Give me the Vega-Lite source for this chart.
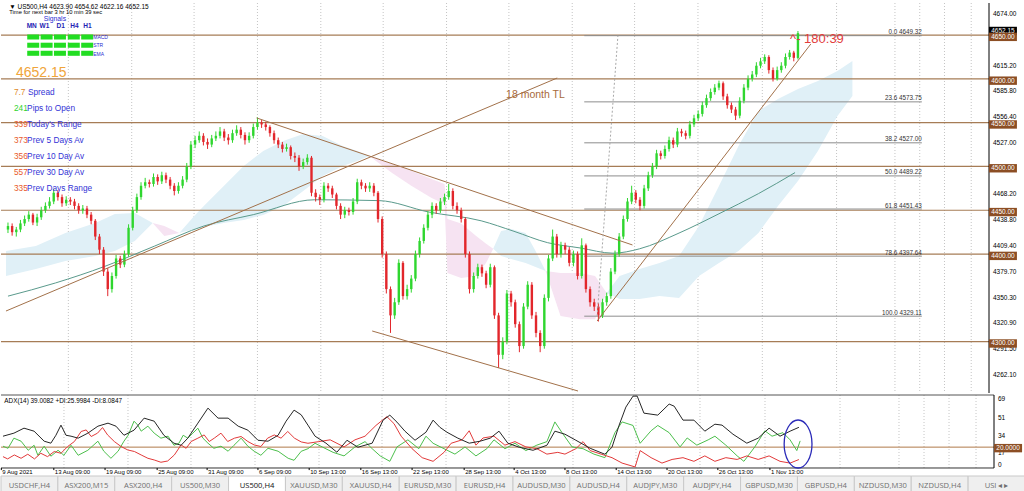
{
"$schema":"https://vega.github.io/schema/vega-lite/v6.json",
"padding":{"left":0,"top":2,"right":0,"bottom":0},
"background":"#ffffff",
"config":{"view":{"stroke":null}},
"resolve":{"scale":{"x":"independent","y":"independent"}},
"datasets":{
"c":[
{"i":0,"o":4428,"h":4436,"l":4424,"c":4432},{"i":1,"o":4432,"h":4435,"l":4421,"c":4425},{"i":2,"o":4425,"h":4431,"l":4420,"c":4428},{"i":3,"o":4428,"h":4439,"l":4425,"c":4435},{"i":4,"o":4435,"h":4444,"l":4432,"c":4440},{"i":5,"o":4440,"h":4449,"l":4437,"c":4445},{"i":6,"o":4445,"h":4447,"l":4433,"c":4436},{"i":7,"o":4436,"h":4446,"l":4432,"c":4442},{"i":8,"o":4442,"h":4454,"l":4439,"c":4450},{"i":9,"o":4450,"h":4459,"l":4447,"c":4455},
{"i":10,"o":4455,"h":4465,"l":4452,"c":4460},{"i":11,"o":4460,"h":4474,"l":4457,"c":4470},{"i":12,"o":4470,"h":4473,"l":4461,"c":4465},{"i":13,"o":4465,"h":4468,"l":4454,"c":4458},{"i":14,"o":4458,"h":4466,"l":4455,"c":4462},{"i":15,"o":4462,"h":4465,"l":4456,"c":4460},{"i":16,"o":4460,"h":4463,"l":4451,"c":4455},{"i":17,"o":4455,"h":4458,"l":4446,"c":4450},{"i":18,"o":4450,"h":4456,"l":4446,"c":4452},{"i":19,"o":4452,"h":4455,"l":4441,"c":4445},
{"i":20,"o":4445,"h":4448,"l":4434,"c":4438},{"i":21,"o":4438,"h":4440,"l":4416,"c":4420},{"i":22,"o":4420,"h":4423,"l":4400,"c":4405},{"i":23,"o":4405,"h":4408,"l":4375,"c":4380},{"i":24,"o":4380,"h":4384,"l":4352,"c":4360},{"i":25,"o":4360,"h":4379,"l":4356,"c":4375},{"i":26,"o":4375,"h":4399,"l":4372,"c":4395},{"i":27,"o":4395,"h":4398,"l":4384,"c":4388},{"i":28,"o":4388,"h":4404,"l":4385,"c":4400},{"i":29,"o":4400,"h":4434,"l":4397,"c":4430},
{"i":30,"o":4430,"h":4454,"l":4427,"c":4450},{"i":31,"o":4450,"h":4469,"l":4447,"c":4465},{"i":32,"o":4465,"h":4482,"l":4462,"c":4478},{"i":33,"o":4478,"h":4487,"l":4475,"c":4482},{"i":34,"o":4482,"h":4485,"l":4476,"c":4480},{"i":35,"o":4480,"h":4492,"l":4477,"c":4488},{"i":36,"o":4488,"h":4491,"l":4479,"c":4483},{"i":37,"o":4483,"h":4494,"l":4480,"c":4490},{"i":38,"o":4490,"h":4493,"l":4481,"c":4485},{"i":39,"o":4485,"h":4488,"l":4474,"c":4478},
{"i":40,"o":4478,"h":4481,"l":4467,"c":4472},{"i":41,"o":4472,"h":4482,"l":4469,"c":4478},{"i":42,"o":4478,"h":4489,"l":4475,"c":4485},{"i":43,"o":4485,"h":4504,"l":4482,"c":4500},{"i":44,"o":4500,"h":4529,"l":4497,"c":4525},{"i":45,"o":4525,"h":4535,"l":4521,"c":4530},{"i":46,"o":4530,"h":4540,"l":4527,"c":4535},{"i":47,"o":4535,"h":4538,"l":4524,"c":4528},{"i":48,"o":4528,"h":4532,"l":4520,"c":4525},{"i":49,"o":4525,"h":4536,"l":4522,"c":4532},
{"i":50,"o":4532,"h":4540,"l":4529,"c":4535},{"i":51,"o":4535,"h":4545,"l":4532,"c":4540},{"i":52,"o":4540,"h":4543,"l":4529,"c":4533},{"i":53,"o":4533,"h":4537,"l":4525,"c":4530},{"i":54,"o":4530,"h":4542,"l":4527,"c":4538},{"i":55,"o":4538,"h":4547,"l":4535,"c":4542},{"i":56,"o":4542,"h":4545,"l":4532,"c":4536},{"i":57,"o":4536,"h":4539,"l":4525,"c":4530},{"i":58,"o":4530,"h":4539,"l":4527,"c":4535},{"i":59,"o":4535,"h":4549,"l":4532,"c":4545},
{"i":60,"o":4545,"h":4556,"l":4542,"c":4550},{"i":61,"o":4550,"h":4553,"l":4544,"c":4548},{"i":62,"o":4548,"h":4551,"l":4541,"c":4545},{"i":63,"o":4545,"h":4547,"l":4534,"c":4538},{"i":64,"o":4538,"h":4541,"l":4526,"c":4530},{"i":65,"o":4530,"h":4533,"l":4521,"c":4525},{"i":66,"o":4525,"h":4528,"l":4516,"c":4520},{"i":67,"o":4520,"h":4526,"l":4517,"c":4522},{"i":68,"o":4522,"h":4524,"l":4508,"c":4512},{"i":69,"o":4512,"h":4516,"l":4505,"c":4510},
{"i":70,"o":4510,"h":4513,"l":4495,"c":4500},{"i":71,"o":4500,"h":4509,"l":4497,"c":4505},{"i":72,"o":4505,"h":4514,"l":4502,"c":4510},{"i":73,"o":4510,"h":4512,"l":4466,"c":4470},{"i":74,"o":4470,"h":4474,"l":4460,"c":4465},{"i":75,"o":4465,"h":4468,"l":4456,"c":4462},{"i":76,"o":4462,"h":4482,"l":4459,"c":4478},{"i":77,"o":4478,"h":4481,"l":4471,"c":4475},{"i":78,"o":4475,"h":4478,"l":4464,"c":4468},{"i":79,"o":4468,"h":4470,"l":4451,"c":4455},
{"i":80,"o":4455,"h":4458,"l":4440,"c":4445},{"i":81,"o":4445,"h":4454,"l":4441,"c":4450},{"i":82,"o":4450,"h":4453,"l":4444,"c":4448},{"i":83,"o":4448,"h":4464,"l":4445,"c":4460},{"i":84,"o":4460,"h":4486,"l":4457,"c":4482},{"i":85,"o":4482,"h":4485,"l":4474,"c":4478},{"i":86,"o":4478,"h":4481,"l":4471,"c":4475},{"i":87,"o":4475,"h":4482,"l":4471,"c":4478},{"i":88,"o":4478,"h":4481,"l":4466,"c":4470},{"i":89,"o":4470,"h":4472,"l":4436,"c":4440},
{"i":90,"o":4440,"h":4443,"l":4396,"c":4400},{"i":91,"o":4400,"h":4403,"l":4355,"c":4360},{"i":92,"o":4360,"h":4363,"l":4310,"c":4330},{"i":93,"o":4330,"h":4350,"l":4326,"c":4345},{"i":94,"o":4345,"h":4394,"l":4342,"c":4390},{"i":95,"o":4390,"h":4392,"l":4348,"c":4352},{"i":96,"o":4352,"h":4365,"l":4348,"c":4360},{"i":97,"o":4360,"h":4376,"l":4356,"c":4372},{"i":98,"o":4372,"h":4404,"l":4369,"c":4400},{"i":99,"o":4400,"h":4419,"l":4396,"c":4415},
{"i":100,"o":4415,"h":4434,"l":4412,"c":4430},{"i":101,"o":4430,"h":4449,"l":4427,"c":4445},{"i":102,"o":4445,"h":4459,"l":4441,"c":4455},{"i":103,"o":4455,"h":4458,"l":4446,"c":4450},{"i":104,"o":4450,"h":4464,"l":4447,"c":4460},{"i":105,"o":4460,"h":4469,"l":4456,"c":4465},{"i":106,"o":4465,"h":4480,"l":4462,"c":4472},{"i":107,"o":4472,"h":4475,"l":4451,"c":4455},{"i":108,"o":4455,"h":4459,"l":4446,"c":4450},{"i":109,"o":4450,"h":4453,"l":4436,"c":4440},
{"i":110,"o":4440,"h":4442,"l":4396,"c":4400},{"i":111,"o":4400,"h":4403,"l":4355,"c":4360},{"i":112,"o":4360,"h":4379,"l":4356,"c":4375},{"i":113,"o":4375,"h":4389,"l":4372,"c":4385},{"i":114,"o":4385,"h":4388,"l":4374,"c":4378},{"i":115,"o":4378,"h":4381,"l":4361,"c":4365},{"i":116,"o":4365,"h":4389,"l":4362,"c":4385},{"i":117,"o":4385,"h":4387,"l":4326,"c":4330},{"i":118,"o":4330,"h":4333,"l":4270,"c":4285},{"i":119,"o":4285,"h":4305,"l":4280,"c":4300},
{"i":120,"o":4300,"h":4359,"l":4297,"c":4355},{"i":121,"o":4355,"h":4358,"l":4340,"c":4345},{"i":122,"o":4345,"h":4348,"l":4316,"c":4320},{"i":123,"o":4320,"h":4323,"l":4288,"c":4295},{"i":124,"o":4295,"h":4344,"l":4292,"c":4340},{"i":125,"o":4340,"h":4369,"l":4337,"c":4365},{"i":126,"o":4365,"h":4368,"l":4326,"c":4330},{"i":127,"o":4330,"h":4334,"l":4305,"c":4310},{"i":128,"o":4310,"h":4313,"l":4288,"c":4295},{"i":129,"o":4295,"h":4354,"l":4292,"c":4350},
{"i":130,"o":4350,"h":4399,"l":4346,"c":4395},{"i":131,"o":4395,"h":4428,"l":4392,"c":4420},{"i":132,"o":4420,"h":4423,"l":4396,"c":4400},{"i":133,"o":4400,"h":4414,"l":4396,"c":4410},{"i":134,"o":4410,"h":4413,"l":4400,"c":4405},{"i":135,"o":4405,"h":4408,"l":4386,"c":4390},{"i":136,"o":4390,"h":4404,"l":4386,"c":4400},{"i":137,"o":4400,"h":4403,"l":4371,"c":4375},{"i":138,"o":4375,"h":4418,"l":4372,"c":4410},{"i":139,"o":4410,"h":4412,"l":4356,"c":4360},
{"i":140,"o":4360,"h":4363,"l":4340,"c":4345},{"i":141,"o":4345,"h":4349,"l":4335,"c":4340},{"i":142,"o":4340,"h":4344,"l":4323,"c":4330},{"i":143,"o":4330,"h":4349,"l":4327,"c":4345},{"i":144,"o":4345,"h":4356,"l":4341,"c":4352},{"i":145,"o":4352,"h":4384,"l":4349,"c":4380},{"i":146,"o":4380,"h":4404,"l":4377,"c":4400},{"i":147,"o":4400,"h":4424,"l":4397,"c":4420},{"i":148,"o":4420,"h":4444,"l":4417,"c":4440},{"i":149,"o":4440,"h":4464,"l":4437,"c":4460},
{"i":150,"o":4460,"h":4478,"l":4457,"c":4470},{"i":151,"o":4470,"h":4473,"l":4458,"c":4462},{"i":152,"o":4462,"h":4465,"l":4450,"c":4455},{"i":153,"o":4455,"h":4479,"l":4452,"c":4475},{"i":154,"o":4475,"h":4494,"l":4472,"c":4490},{"i":155,"o":4490,"h":4504,"l":4487,"c":4500},{"i":156,"o":4500,"h":4519,"l":4497,"c":4515},{"i":157,"o":4515,"h":4518,"l":4508,"c":4512},{"i":158,"o":4512,"h":4524,"l":4509,"c":4520},{"i":159,"o":4520,"h":4534,"l":4517,"c":4530},
{"i":160,"o":4530,"h":4533,"l":4521,"c":4525},{"i":161,"o":4525,"h":4544,"l":4522,"c":4540},{"i":162,"o":4540,"h":4543,"l":4534,"c":4538},{"i":163,"o":4538,"h":4541,"l":4531,"c":4535},{"i":164,"o":4535,"h":4552,"l":4532,"c":4548},{"i":165,"o":4548,"h":4559,"l":4545,"c":4555},{"i":166,"o":4555,"h":4564,"l":4552,"c":4560},{"i":167,"o":4560,"h":4574,"l":4557,"c":4570},{"i":168,"o":4570,"h":4582,"l":4567,"c":4578},{"i":169,"o":4578,"h":4589,"l":4575,"c":4585},
{"i":170,"o":4585,"h":4594,"l":4582,"c":4590},{"i":171,"o":4590,"h":4598,"l":4587,"c":4595},{"i":172,"o":4595,"h":4597,"l":4576,"c":4580},{"i":173,"o":4580,"h":4583,"l":4566,"c":4570},{"i":174,"o":4570,"h":4573,"l":4561,"c":4565},{"i":175,"o":4565,"h":4568,"l":4553,"c":4558},{"i":176,"o":4558,"h":4579,"l":4555,"c":4575},{"i":177,"o":4575,"h":4594,"l":4572,"c":4590},{"i":178,"o":4590,"h":4604,"l":4587,"c":4600},{"i":179,"o":4600,"h":4609,"l":4597,"c":4605},
{"i":180,"o":4605,"h":4619,"l":4602,"c":4615},{"i":181,"o":4615,"h":4624,"l":4612,"c":4620},{"i":182,"o":4620,"h":4628,"l":4617,"c":4625},{"i":183,"o":4625,"h":4627,"l":4606,"c":4610},{"i":184,"o":4610,"h":4613,"l":4597,"c":4600},{"i":185,"o":4600,"h":4614,"l":4598,"c":4610},{"i":186,"o":4610,"h":4619,"l":4607,"c":4615},{"i":187,"o":4615,"h":4629,"l":4612,"c":4625},{"i":188,"o":4625,"h":4633,"l":4622,"c":4630},{"i":189,"o":4630,"h":4632,"l":4620,"c":4624},
{"i":190,"o":4623.9,"h":4654.62,"l":4622.16,"c":4652.15}
],
"ma":[{"i":0,"p":4352},{"i":11.4,"p":4367},{"i":23.3,"p":4386},{"i":35.2,"p":4409},{"i":47.1,"p":4432},{"i":59,"p":4445},{"i":73.8,"p":4462},{"i":89.3,"p":4461},{"i":101.2,"p":4448},{"i":113.8,"p":4438},{"i":121.7,"p":4426},{"i":129.8,"p":4413},{"i":137.6,"p":4407},{"i":145.5,"p":4401},{"i":151.9,"p":4406},{"i":161.4,"p":4424},{"i":171,"p":4446},{"i":180.5,"p":4469},{"i":189.3,"p":4493}],
"cloud":[
{"s":1,"k":"b","i":-0.48,"a":4403.5,"b":4375.0},{"s":1,"k":"b","i":6.7,"a":4409.2,"b":4383.0},{"s":1,"k":"b","i":13.8,"a":4424.1,"b":4392.1},{"s":1,"k":"b","i":21,"a":4435.5,"b":4397.8},{"s":1,"k":"b","i":25.7,"a":4445.8,"b":4403.5},{"s":1,"k":"b","i":30.5,"a":4447.0,"b":4415.0},{"s":1,"k":"b","i":34.8,"a":4435.5,"b":4435.5},
{"s":2,"k":"p","i":34.8,"a":4435.5,"b":4435.5},{"s":2,"k":"p","i":37.6,"a":4432.1,"b":4420.7},{"s":2,"k":"p","i":41.2,"a":4424.1,"b":4424.1},
{"s":3,"k":"b","i":41.2,"a":4424.1,"b":4424.1},{"s":3,"k":"b","i":44.8,"a":4443.5,"b":4428.7},{"s":3,"k":"b","i":47.1,"a":4454.9,"b":4431.0},{"s":3,"k":"b","i":51.9,"a":4477.7,"b":4435.5},{"s":3,"k":"b","i":56.7,"a":4500.6,"b":4439.0},{"s":3,"k":"b","i":61.4,"a":4517.7,"b":4444.7},{"s":3,"k":"b","i":66.2,"a":4529.1,"b":4454.9},{"s":3,"k":"b","i":71,"a":4537.1,"b":4472.0},{"s":3,"k":"b","i":75.7,"a":4534.8,"b":4489.2},{"s":3,"k":"b","i":80.5,"a":4523.4,"b":4500.6},{"s":3,"k":"b","i":84,"a":4517.7,"b":4506.3},{"s":3,"k":"b","i":86.9,"a":4512.0,"b":4512.0},
{"s":4,"k":"p","i":86.9,"a":4512.0,"b":4512.0},{"s":4,"k":"p","i":92.4,"a":4502.9,"b":4492.6},{"s":4,"k":"p","i":97.1,"a":4494.9,"b":4477.7},{"s":4,"k":"p","i":101.9,"a":4485.7,"b":4463.9},{"s":4,"k":"p","i":105,"a":4480.0,"b":4457.1},{"s":4,"k":"p","i":105.7,"a":4440,"b":4378.4},{"s":4,"k":"p","i":109,"a":4435,"b":4372.7},{"s":4,"k":"p","i":112.6,"a":4420.7,"b":4375.0},{"s":4,"k":"p","i":115,"a":4411.7,"b":4390.0},{"s":4,"k":"p","i":116.7,"a":4406.0,"b":4406.0},
{"s":5,"k":"b","i":116.7,"a":4406.0,"b":4406.0},{"s":5,"k":"b","i":118.6,"a":4426.4,"b":4397.8},{"s":5,"k":"b","i":121,"a":4428.7,"b":4394.4},{"s":5,"k":"b","i":124.5,"a":4424.1,"b":4389.9},{"s":5,"k":"b","i":126.9,"a":4403.5,"b":4385.3},{"s":5,"k":"b","i":129.3,"a":4380.7,"b":4380.7},
{"s":6,"k":"p","i":129.3,"a":4380.7,"b":4380.7},{"s":6,"k":"p","i":132.9,"a":4378.4,"b":4329.3},{"s":6,"k":"p","i":137.6,"a":4378.4,"b":4325.7},{"s":6,"k":"p","i":141.2,"a":4375.0,"b":4325.7},{"s":6,"k":"p","i":144,"a":4355.6,"b":4355.6},
{"s":7,"k":"b","i":144,"a":4355.6,"b":4355.6},{"s":7,"k":"b","i":147.1,"a":4375.0,"b":4348.7},{"s":7,"k":"b","i":151.9,"a":4383.0,"b":4348.7},{"s":7,"k":"b","i":156.7,"a":4389.9,"b":4352.2},{"s":7,"k":"b","i":161.4,"a":4397.8,"b":4349.9},{"s":7,"k":"b","i":166.2,"a":4432.1,"b":4375.0},{"s":7,"k":"b","i":171,"a":4477.7,"b":4389.9},{"s":7,"k":"b","i":175.7,"a":4523.4,"b":4403.5},{"s":7,"k":"b","i":180.5,"a":4563.4,"b":4424.1},{"s":7,"k":"b","i":185.2,"a":4577.1,"b":4454.9},{"s":7,"k":"b","i":190,"a":4588.5,"b":4483.4},{"s":7,"k":"b","i":194.8,"a":4597.6,"b":4517.7},{"s":7,"k":"b","i":199.5,"a":4609.0,"b":4557.7},{"s":7,"k":"b","i":203.1,"a":4620.4,"b":4580.5}
],
"sr":[{"p":4650},{"p":4600},{"p":4550},{"p":4500},{"p":4450},{"p":4400},{"p":4300}],
"cur":[{"p":4652.15}],
"yt":[{"p":4674},{"p":4615.2},{"p":4585.8},{"p":4556.4},{"p":4527},{"p":4468.2},{"p":4438.8},{"p":4409.4},{"p":4379.7},{"p":4350.3},{"p":4320.9},{"p":4291.5},{"p":4262.1}],
"fib":[{"p":4649.32,"t":"0.0  4649.32"},{"p":4573.75,"t":"23.6  4573.75"},{"p":4527.00,"t":"38.2  4527.00"},{"p":4489.22,"t":"50.0  4489.22"},{"p":4451.43,"t":"61.8  4451.43"},{"p":4397.64,"t":"78.6  4397.64"},{"p":4329.11,"t":"100.0  4329.11"}],
"tl":[{"x1":-0.48,"y1":4335.0,"x2":132.1,"y2":4601.0},{"x1":59.8,"y1":4555.4,"x2":150.2,"y2":4410.4},{"x1":87.6,"y1":4312.2,"x2":137.1,"y2":4243.7},{"x1":141.7,"y1":4323.6,"x2":193.1,"y2":4639.8}],
"fd":[{"x1":141.7,"y1":4329.11,"x2":146.7,"y2":4649.32}],
"grid":[{"i":14.52},{"i":29.76},{"i":44.76},{"i":60},{"i":75.24},{"i":90.24},{"i":105.48},{"i":120.48},{"i":135.71},{"i":150.71},{"i":165.95},{"i":181.43},{"i":199.29},{"i":213.33},{"i":219.29},{"i":225.24},{"i":231.67}],
"notes":[
{"g":"hdr","t":"▼ US500,H4  4623.90 4654.62 4622.16 4652.15","i":0.3,"p":4682.6},
{"g":"tm","t":"Time for next bar  3 hr 10 min 39 sec","i":0.3,"p":4675.8},
{"g":"sig","t":"Signals","i":8.6,"p":4668.3},
{"g":"tf","t":"MN","i":4.5,"p":4660.3},{"g":"tf","t":"W1","i":7.6,"p":4660.3},{"g":"tf","t":"D1","i":11.7,"p":4660.3},{"g":"tf","t":"H4","i":15.0,"p":4660.3},{"g":"tf","t":"H1","i":18.1,"p":4660.3},
{"g":"ind","t":"MACD","i":20.5,"p":4647.8},{"g":"ind","t":"STR","i":20.5,"p":4638.7},{"g":"ind","t":"EMA","i":20.5,"p":4628.4},
{"g":"big","t":"4652.15","i":1.9,"p":4606.7},
{"g":"no","t":"7.7","i":1.43,"p":4584.2},{"g":"ng","t":"241","i":1.43,"p":4566.0},{"g":"nr","t":"339","i":1.43,"p":4547.4},{"g":"nr","t":"373","i":1.43,"p":4529.1},{"g":"nr","t":"356","i":1.43,"p":4511.2},{"g":"nr","t":"557","i":1.43,"p":4493.0},{"g":"nr","t":"335","i":1.43,"p":4474.7},
{"g":"lab","t":"Spread","i":4.8,"p":4584.2},{"g":"lab","t":"Pips to Open","i":4.6,"p":4566.0},{"g":"lab","t":"Today's Range","i":4.6,"p":4547.4},{"g":"lab","t":"Prev 5 Days Av","i":4.6,"p":4529.1},{"g":"lab","t":"Prev 10 Day Av","i":4.6,"p":4511.2},{"g":"lab","t":"Prev 30 Day Av","i":4.6,"p":4493.0},{"g":"lab","t":"Prev Days Range","i":4.6,"p":4474.7},
{"g":"tl","t":"18 month TL","i":119.8,"p":4581.6},
{"g":"cd","t":"^- 180:39","i":188.1,"p":4645.5}
],
"sq":[{"i":6.07,"p":4647.8},{"i":9.29,"p":4647.8},{"i":12.5,"p":4647.8},{"i":15.83,"p":4647.8},{"i":19.05,"p":4647.8},{"i":6.07,"p":4638.4},{"i":9.29,"p":4638.4},{"i":12.5,"p":4638.4},{"i":15.83,"p":4638.4},{"i":19.05,"p":4638.4},{"i":6.07,"p":4629.2},{"i":9.29,"p":4629.2},{"i":12.5,"p":4629.2},{"i":15.83,"p":4629.2},{"i":19.05,"p":4629.2}],
"lvl":[{"v":20}],
"atop":[{"v":70}],
"abot":[{"v":0}],
"at":[{"v":69},{"v":51},{"v":34},{"v":17}],
"dt":[{"i":-0.4,"t":"9 Aug 2021"},{"i":12.1,"t":"13 Aug 09:00"},{"i":24.3,"t":"19 Aug 09:00"},{"i":36.7,"t":"25 Aug 09:00"},{"i":48.6,"t":"31 Aug 09:00"},{"i":60.7,"t":"6 Sep 09:00"},{"i":72.9,"t":"10 Sep 13:00"},{"i":85.2,"t":"16 Sep 13:00"},{"i":97.4,"t":"22 Sep 13:00"},{"i":109.8,"t":"28 Sep 13:00"},{"i":121.7,"t":"4 Oct 13:00"},{"i":133.8,"t":"8 Oct 13:00"},{"i":146,"t":"14 Oct 13:00"},{"i":158.1,"t":"20 Oct 13:00"},{"i":170.2,"t":"26 Oct 13:00"},{"i":182.6,"t":"1 Nov 13:00"}],
"anote":[{"t":"ADX(14) 39.0082 +DI:25.9984 -DI:8.0847","i":0.3,"v":64.3}],
"ell":[{"i":189.3,"v":23.0}],
"adx":[
{"s":"a","i":0,"v":30.5},{"s":"a","i":2.6,"v":33.4},{"s":"a","i":5,"v":38.2},{"s":"a","i":7.4,"v":35.3},{"s":"a","i":9.8,"v":25.7},{"s":"a","i":11.4,"v":23.8},{"s":"a","i":12.6,"v":31.4},{"s":"a","i":13.8,"v":41.1},{"s":"a","i":15,"v":31.4},{"s":"a","i":16.2,"v":30.5},{"s":"a","i":17.9,"v":28.6},{"s":"a","i":20.2,"v":33.4},{"s":"a","i":22.6,"v":40.1},{"s":"a","i":25,"v":43},{"s":"a","i":26.9,"v":40.1},{"s":"a","i":28.8,"v":31.4},{"s":"a","i":31.2,"v":36.3},{"s":"a","i":33.6,"v":47.8},{"s":"a","i":36,"v":44.9},{"s":"a","i":38.3,"v":31.4},{"s":"a","i":40.7,"v":23.8},{"s":"a","i":42.4,"v":21.8},{"s":"a","i":44,"v":28.6},{"s":"a","i":46.4,"v":43},{"s":"a","i":48.8,"v":57.4},{"s":"a","i":51.2,"v":47.8},{"s":"a","i":53.6,"v":47.8},{"s":"a","i":56,"v":40.1},{"s":"a","i":58.3,"v":36.3},{"s":"a","i":60.7,"v":26.6},{"s":"a","i":63.1,"v":25.7},{"s":"a","i":65.5,"v":31.4},{"s":"a","i":67.4,"v":44.9},{"s":"a","i":69.3,"v":55.5},{"s":"a","i":71,"v":51},{"s":"a","i":72.6,"v":41.1},{"s":"a","i":74.3,"v":30.5},{"s":"a","i":76.9,"v":23.8},{"s":"a","i":79.5,"v":15.1},{"s":"a","i":81.9,"v":26.6},{"s":"a","i":84.5,"v":19.9},{"s":"a","i":87.9,"v":23.8},{"s":"a","i":90.5,"v":45.9},{"s":"a","i":92.1,"v":50.7},{"s":"a","i":93.8,"v":44},{"s":"a","i":95.7,"v":35.3},{"s":"a","i":98.1,"v":26.6},{"s":"a","i":100.7,"v":34.3},{"s":"a","i":102.4,"v":45.9},{"s":"a","i":104,"v":39.1},{"s":"a","i":105.7,"v":34.3},{"s":"a","i":108.3,"v":28.6},{"s":"a","i":111,"v":23.8},{"s":"a","i":113.6,"v":25.7},{"s":"a","i":116,"v":28.6},{"s":"a","i":118.1,"v":35.3},{"s":"a","i":120.2,"v":23.8},{"s":"a","i":122.9,"v":19.9},{"s":"a","i":126.2,"v":17},{"s":"a","i":129.5,"v":21.8},{"s":"a","i":131.4,"v":35.3},{"s":"a","i":133.8,"v":32.4},{"s":"a","i":136.4,"v":26.6},{"s":"a","i":139.8,"v":18.9},{"s":"a","i":143.3,"v":13.2},{"s":"a","i":145,"v":19.9},{"s":"a","i":146.7,"v":41.1},{"s":"a","i":148.3,"v":58.4},{"s":"a","i":150,"v":68.9},{"s":"a","i":151,"v":68.9},{"s":"a","i":152.6,"v":52.6},{"s":"a","i":155.9,"v":50.7},{"s":"a","i":158.6,"v":61.3},{"s":"a","i":159.8,"v":59.3},{"s":"a","i":161.9,"v":45.9},{"s":"a","i":164.5,"v":45.9},{"s":"a","i":167.1,"v":35.3},{"s":"a","i":169.5,"v":42},{"s":"a","i":171.2,"v":41.1},{"s":"a","i":173.8,"v":32.4},{"s":"a","i":177.1,"v":23.8},{"s":"a","i":179.8,"v":28.6},{"s":"a","i":182.4,"v":38.2},{"s":"a","i":185,"v":30.5},{"s":"a","i":187.4,"v":35.3},{"s":"a","i":189.5,"v":39},
{"s":"p","i":0,"v":20.9},{"s":"p","i":1.2,"v":18.9},{"s":"p","i":2.6,"v":28.6},{"s":"p","i":4.3,"v":25.7},{"s":"p","i":6,"v":17},{"s":"p","i":7.4,"v":21.8},{"s":"p","i":8.3,"v":12.2},{"s":"p","i":9.8,"v":20.9},{"s":"p","i":11.4,"v":11.3},{"s":"p","i":13.1,"v":17},{"s":"p","i":14.5,"v":12.2},{"s":"p","i":16.2,"v":21.8},{"s":"p","i":17.9,"v":12.2},{"s":"p","i":20.2,"v":17},{"s":"p","i":22.6,"v":25.7},{"s":"p","i":24,"v":16.1},{"s":"p","i":25.7,"v":9.3},{"s":"p","i":27.4,"v":16.1},{"s":"p","i":28.8,"v":25.7},{"s":"p","i":29.8,"v":31.4},{"s":"p","i":31.2,"v":44.9},{"s":"p","i":32.1,"v":41.1},{"s":"p","i":32.9,"v":35.3},{"s":"p","i":34.5,"v":40.1},{"s":"p","i":36,"v":33.4},{"s":"p","i":37.6,"v":28.6},{"s":"p","i":39.3,"v":30.5},{"s":"p","i":40.7,"v":21.8},{"s":"p","i":41.9,"v":23.8},{"s":"p","i":42.9,"v":31.4},{"s":"p","i":44,"v":28.6},{"s":"p","i":45.2,"v":33.4},{"s":"p","i":46.4,"v":38.2},{"s":"p","i":47.6,"v":28.6},{"s":"p","i":48.8,"v":23.8},{"s":"p","i":50.2,"v":18.9},{"s":"p","i":51.9,"v":20.9},{"s":"p","i":53.6,"v":16.1},{"s":"p","i":55,"v":21.8},{"s":"p","i":56.7,"v":28.6},{"s":"p","i":58.3,"v":20.9},{"s":"p","i":59.8,"v":16.1},{"s":"p","i":61.4,"v":12.2},{"s":"p","i":63.1,"v":18.9},{"s":"p","i":65.5,"v":16.1},{"s":"p","i":67.9,"v":9.3},{"s":"p","i":69.3,"v":7.4},{"s":"p","i":71,"v":16},{"s":"p","i":72.6,"v":18.5},{"s":"p","i":74.3,"v":23.7},{"s":"p","i":76,"v":20.2},{"s":"p","i":78.6,"v":15},{"s":"p","i":81.2,"v":11.6},{"s":"p","i":83.8,"v":20.2},{"s":"p","i":86.2,"v":25.3},{"s":"p","i":87.9,"v":18.5},{"s":"p","i":89.8,"v":11.6},{"s":"p","i":92.1,"v":6.4},{"s":"p","i":93.8,"v":20.2},{"s":"p","i":96.4,"v":27},{"s":"p","i":99,"v":18.5},{"s":"p","i":100.7,"v":30.5},{"s":"p","i":102.4,"v":23.7},{"s":"p","i":105,"v":18.5},{"s":"p","i":107.6,"v":13.3},{"s":"p","i":110,"v":20.2},{"s":"p","i":112.6,"v":11.6},{"s":"p","i":115.2,"v":18.5},{"s":"p","i":116.9,"v":27},{"s":"p","i":119.5,"v":18.5},{"s":"p","i":121.9,"v":23.7},{"s":"p","i":124.5,"v":16.7},{"s":"p","i":127.1,"v":21.9},{"s":"p","i":129.5,"v":25.3},{"s":"p","i":131.4,"v":44.2},{"s":"p","i":133.1,"v":33.9},{"s":"p","i":135.5,"v":20.2},{"s":"p","i":138.1,"v":18.5},{"s":"p","i":140.7,"v":13.3},{"s":"p","i":143.3,"v":9.9},{"s":"p","i":145.7,"v":33.9},{"s":"p","i":147.4,"v":44.2},{"s":"p","i":150,"v":40.8},{"s":"p","i":151.7,"v":23.7},{"s":"p","i":154.3,"v":35.7},{"s":"p","i":155.9,"v":40.8},{"s":"p","i":158.6,"v":33.9},{"s":"p","i":161.2,"v":20.2},{"s":"p","i":162.9,"v":28.8},{"s":"p","i":165.2,"v":21.9},{"s":"p","i":167.9,"v":27},{"s":"p","i":169.5,"v":30.5},{"s":"p","i":172.1,"v":21.9},{"s":"p","i":174.8,"v":11.6},{"s":"p","i":176.4,"v":6.4},{"s":"p","i":179,"v":20.2},{"s":"p","i":181.4,"v":35.7},{"s":"p","i":183.1,"v":30.5},{"s":"p","i":185.7,"v":33.9},{"s":"p","i":187.4,"v":27},{"s":"p","i":189,"v":16.7},{"s":"p","i":189.8,"v":26},
{"s":"m","i":0,"v":10.9},{"s":"m","i":1.1,"v":8.7},{"s":"m","i":2.7,"v":12.5},{"s":"m","i":4.3,"v":9.3},{"s":"m","i":5.9,"v":13.2},{"s":"m","i":7.5,"v":8.7},{"s":"m","i":9,"v":14.1},{"s":"m","i":10.6,"v":10.9},{"s":"m","i":12.2,"v":15.8},{"s":"m","i":13.8,"v":14.1},{"s":"m","i":15.4,"v":20.6},{"s":"m","i":17,"v":25.4},{"s":"m","i":18.6,"v":35},{"s":"m","i":19.8,"v":36.5},{"s":"m","i":21,"v":30.2},{"s":"m","i":22.5,"v":33.4},{"s":"m","i":23.7,"v":38.8},{"s":"m","i":24.9,"v":31.7},{"s":"m","i":26.5,"v":25.4},{"s":"m","i":28.1,"v":20.6},{"s":"m","i":29.7,"v":17.3},{"s":"m","i":31.3,"v":15.8},{"s":"m","i":32.9,"v":12.5},{"s":"m","i":34.5,"v":9.3},{"s":"m","i":36,"v":7.7},{"s":"m","i":37.6,"v":5.5},{"s":"m","i":39.2,"v":6.7},{"s":"m","i":40.8,"v":12.5},{"s":"m","i":42.4,"v":22.1},{"s":"m","i":43.6,"v":18.9},{"s":"m","i":44.8,"v":25.4},{"s":"m","i":46.4,"v":28.6},{"s":"m","i":47.9,"v":31.7},{"s":"m","i":49.1,"v":25.4},{"s":"m","i":50.3,"v":28.6},{"s":"m","i":51.9,"v":33.4},{"s":"m","i":53.5,"v":25.4},{"s":"m","i":55.1,"v":28.6},{"s":"m","i":56.7,"v":30.2},{"s":"m","i":58.3,"v":25.4},{"s":"m","i":59.8,"v":22.1},{"s":"m","i":61.4,"v":20.6},{"s":"m","i":63,"v":28.6},{"s":"m","i":64.6,"v":31.7},{"s":"m","i":66.2,"v":28.6},{"s":"m","i":67.8,"v":35},{"s":"m","i":69.4,"v":28.6},{"s":"m","i":71,"v":25},{"s":"m","i":72.6,"v":23.7},{"s":"m","i":75.2,"v":25.3},{"s":"m","i":77.9,"v":27},{"s":"m","i":81.2,"v":20.2},{"s":"m","i":83.8,"v":27},{"s":"m","i":86.2,"v":30.5},{"s":"m","i":88.8,"v":40.8},{"s":"m","i":91.4,"v":49.3},{"s":"m","i":93.1,"v":42.5},{"s":"m","i":94.8,"v":30.5},{"s":"m","i":97.4,"v":18.5},{"s":"m","i":99.8,"v":9.9},{"s":"m","i":102.4,"v":6.4},{"s":"m","i":105,"v":15},{"s":"m","i":106.7,"v":23.7},{"s":"m","i":109.3,"v":27},{"s":"m","i":111,"v":35.7},{"s":"m","i":112.6,"v":21.9},{"s":"m","i":114.3,"v":28.8},{"s":"m","i":116.9,"v":30.5},{"s":"m","i":119.5,"v":21.9},{"s":"m","i":121.9,"v":25.3},{"s":"m","i":124.5,"v":20.2},{"s":"m","i":127.1,"v":18.5},{"s":"m","i":129.5,"v":13.3},{"s":"m","i":132.1,"v":15},{"s":"m","i":133.8,"v":13.3},{"s":"m","i":136.4,"v":18.5},{"s":"m","i":138.1,"v":25.3},{"s":"m","i":139.8,"v":16.7},{"s":"m","i":142.4,"v":13.3},{"s":"m","i":145,"v":9.9},{"s":"m","i":147.4,"v":4.7},{"s":"m","i":150.5,"v":1},{"s":"m","i":151.7,"v":16.7},{"s":"m","i":154.3,"v":9.9},{"s":"m","i":156.9,"v":4.7},{"s":"m","i":159.3,"v":8.2},{"s":"m","i":161.9,"v":9.9},{"s":"m","i":164.5,"v":6.4},{"s":"m","i":167.1,"v":11.6},{"s":"m","i":169.5,"v":6.4},{"s":"m","i":172.1,"v":9.9},{"s":"m","i":174.8,"v":8.2},{"s":"m","i":177.1,"v":11.6},{"s":"m","i":179.8,"v":8.2},{"s":"m","i":182.4,"v":11.6},{"s":"m","i":185,"v":6.4},{"s":"m","i":187.4,"v":4.7},{"s":"m","i":189.5,"v":8.1}
],
"tabs":[{"t":"USDCHF,H4","a":0},{"t":"ASX200,M15","a":0},{"t":"ASX200,H4","a":0},{"t":"US500,M30","a":0},{"t":"US500,H4","a":1},{"t":"XAUUSD,M30","a":0},{"t":"XAUUSD,H4","a":0},{"t":"EURUSD,M30","a":0},{"t":"EURUSD,H4","a":0},{"t":"AUDUSD,M30","a":0},{"t":"AUDUSD,H4","a":0},{"t":"AUDJPY,M30","a":0},{"t":"AUDJPY,H4","a":0},{"t":"GBPUSD,M30","a":0},{"t":"GBPUSD,H4","a":0},{"t":"NZDUSD,M30","a":0},{"t":"NZDUSD,H4","a":0},{"t":"USI   ◂   ▸","a":0}]
},
"spacing":0,
"vconcat":[
{"width":993,"height":390,"layer":[
{"data":{"name":"grid"},"mark":{"type":"rule","color":"#c4c4c4","strokeDash":[1,2],"strokeWidth":1},"encoding":{"x":{"field":"i","type":"quantitative","scale":{"domain":[-0.476,235.95],"nice":false,"zero":false},"axis":null}}},
{"data":{"name":"cloud"},"transform":[{"filter":"datum.k == 'b'"}],"mark":{"type":"area","opacity":1,"color":"#e0f0f7"},"encoding":{"x":{"field":"i","type":"quantitative","scale":{"domain":[-0.476,235.95],"nice":false,"zero":false},"axis":null},"y":{"field":"a","type":"quantitative","stack":null,"scale":{"domain":[4241.42,4686.6],"nice":false,"zero":false},"axis":null},"y2":{"field":"b"},"detail":{"field":"s","type":"nominal"}}},
{"data":{"name":"cloud"},"transform":[{"filter":"datum.k == 'p'"}],"mark":{"type":"area","opacity":1,"color":"#f6e3f2"},"encoding":{"x":{"field":"i","type":"quantitative","scale":{"domain":[-0.476,235.95],"nice":false,"zero":false},"axis":null},"y":{"field":"a","type":"quantitative","stack":null,"scale":{"domain":[4241.42,4686.6],"nice":false,"zero":false},"axis":null},"y2":{"field":"b"},"detail":{"field":"s","type":"nominal"}}},
{"data":{"name":"sr"},"mark":{"type":"rule","color":"#a67c56","strokeWidth":1.2},"encoding":{"y":{"field":"p","type":"quantitative","scale":{"domain":[4241.42,4686.6],"nice":false,"zero":false},"axis":null}}},
{"data":{"name":"fib"},"mark":{"type":"rule","color":"#8d8d8d","strokeWidth":1},"encoding":{"x":{"datum":138.6,"type":"quantitative","scale":{"domain":[-0.476,235.95],"nice":false,"zero":false},"axis":null},"x2":{"datum":219.8},"y":{"field":"p","type":"quantitative","scale":{"domain":[4241.42,4686.6],"nice":false,"zero":false},"axis":null}}},
{"data":{"name":"ma"},"mark":{"type":"line","color":"#5a9a8c","strokeWidth":1,"interpolate":"monotone"},"encoding":{"x":{"field":"i","type":"quantitative","scale":{"domain":[-0.476,235.95],"nice":false,"zero":false},"axis":null},"y":{"field":"p","type":"quantitative","scale":{"domain":[4241.42,4686.6],"nice":false,"zero":false},"axis":null}}},
{"data":{"name":"c"},"mark":{"type":"rule","strokeWidth":1},"encoding":{"x":{"field":"i","type":"quantitative","scale":{"domain":[-0.476,235.95],"nice":false,"zero":false},"axis":null},"y":{"field":"l","type":"quantitative","scale":{"domain":[4241.42,4686.6],"nice":false,"zero":false},"axis":null},"y2":{"field":"h"},"color":{"condition":{"test":"datum.o < datum.c","value":"#2fd62f"},"value":"#e2262b"}}},
{"data":{"name":"c"},"mark":{"type":"bar","size":2.4},"encoding":{"x":{"field":"i","type":"quantitative","scale":{"domain":[-0.476,235.95],"nice":false,"zero":false},"axis":null},"y":{"field":"o","type":"quantitative","scale":{"domain":[4241.42,4686.6],"nice":false,"zero":false},"axis":null},"y2":{"field":"c"},"color":{"condition":{"test":"datum.o < datum.c","value":"#2fd62f"},"value":"#e2262b"}}},
{"data":{"name":"tl"},"mark":{"type":"rule","color":"#a2714a","strokeWidth":1},"encoding":{"x":{"field":"x1","type":"quantitative","scale":{"domain":[-0.476,235.95],"nice":false,"zero":false},"axis":null},"x2":{"field":"x2"},"y":{"field":"y1","type":"quantitative","scale":{"domain":[4241.42,4686.6],"nice":false,"zero":false},"axis":null},"y2":{"field":"y2"}}},
{"data":{"name":"fd"},"mark":{"type":"rule","color":"#a8a8a8","strokeWidth":1,"strokeDash":[2,2]},"encoding":{"x":{"field":"x1","type":"quantitative","scale":{"domain":[-0.476,235.95],"nice":false,"zero":false},"axis":null},"x2":{"field":"x2"},"y":{"field":"y1","type":"quantitative","scale":{"domain":[4241.42,4686.6],"nice":false,"zero":false},"axis":null},"y2":{"field":"y2"}}},
{"data":{"name":"fib"},"mark":{"type":"text","align":"right","baseline":"alphabetic","dy":-1.5,"fontSize":6.3,"font":"Liberation Sans","color":"#333333"},"encoding":{"x":{"datum":219.8,"type":"quantitative","scale":{"domain":[-0.476,235.95],"nice":false,"zero":false},"axis":null},"y":{"field":"p","type":"quantitative","scale":{"domain":[4241.42,4686.6],"nice":false,"zero":false},"axis":null},"text":{"field":"t"}}},
{"data":{"name":"sq"},"mark":{"type":"point","shape":"M-1,-0.42H1V0.42H-1Z","size":144,"filled":true,"opacity":1,"color":"#22dd22","strokeWidth":0},"encoding":{"x":{"field":"i","type":"quantitative","scale":{"domain":[-0.476,235.95],"nice":false,"zero":false},"axis":null},"y":{"field":"p","type":"quantitative","scale":{"domain":[4241.42,4686.6],"nice":false,"zero":false},"axis":null}}},
{"data":{"name":"notes"},"transform":[{"filter":"datum.g == 'hdr'"}],"mark":{"type":"text","align":"left","baseline":"middle","fontSize":6.5,"font":"Liberation Sans","color":"#000000"},"encoding":{"x":{"field":"i","type":"quantitative","scale":{"domain":[-0.476,235.95],"nice":false,"zero":false},"axis":null},"y":{"field":"p","type":"quantitative","scale":{"domain":[4241.42,4686.6],"nice":false,"zero":false},"axis":null},"text":{"field":"t"}}},
{"data":{"name":"notes"},"transform":[{"filter":"datum.g == 'tm'"}],"mark":{"type":"text","align":"left","baseline":"middle","fontSize":5.8,"font":"Liberation Sans","color":"#000000"},"encoding":{"x":{"field":"i","type":"quantitative","scale":{"domain":[-0.476,235.95],"nice":false,"zero":false},"axis":null},"y":{"field":"p","type":"quantitative","scale":{"domain":[4241.42,4686.6],"nice":false,"zero":false},"axis":null},"text":{"field":"t"}}},
{"data":{"name":"notes"},"transform":[{"filter":"datum.g == 'sig'"}],"mark":{"type":"text","align":"left","baseline":"middle","fontSize":6.8,"font":"Liberation Sans","color":"#2b2bd0"},"encoding":{"x":{"field":"i","type":"quantitative","scale":{"domain":[-0.476,235.95],"nice":false,"zero":false},"axis":null},"y":{"field":"p","type":"quantitative","scale":{"domain":[4241.42,4686.6],"nice":false,"zero":false},"axis":null},"text":{"field":"t"}}},
{"data":{"name":"notes"},"transform":[{"filter":"datum.g == 'tf'"}],"mark":{"type":"text","align":"left","baseline":"middle","fontSize":6.5,"fontWeight":"bold","font":"Liberation Sans","color":"#1e1eb4"},"encoding":{"x":{"field":"i","type":"quantitative","scale":{"domain":[-0.476,235.95],"nice":false,"zero":false},"axis":null},"y":{"field":"p","type":"quantitative","scale":{"domain":[4241.42,4686.6],"nice":false,"zero":false},"axis":null},"text":{"field":"t"}}},
{"data":{"name":"notes"},"transform":[{"filter":"datum.g == 'ind'"}],"mark":{"type":"text","align":"left","baseline":"middle","fontSize":5,"font":"Liberation Sans","color":"#2b2bd0"},"encoding":{"x":{"field":"i","type":"quantitative","scale":{"domain":[-0.476,235.95],"nice":false,"zero":false},"axis":null},"y":{"field":"p","type":"quantitative","scale":{"domain":[4241.42,4686.6],"nice":false,"zero":false},"axis":null},"text":{"field":"t"}}},
{"data":{"name":"notes"},"transform":[{"filter":"datum.g == 'big'"}],"mark":{"type":"text","align":"left","baseline":"middle","fontSize":14,"font":"Liberation Sans","color":"#f0a53a"},"encoding":{"x":{"field":"i","type":"quantitative","scale":{"domain":[-0.476,235.95],"nice":false,"zero":false},"axis":null},"y":{"field":"p","type":"quantitative","scale":{"domain":[4241.42,4686.6],"nice":false,"zero":false},"axis":null},"text":{"field":"t"}}},
{"data":{"name":"notes"},"transform":[{"filter":"datum.g == 'no'"}],"mark":{"type":"text","align":"left","baseline":"middle","fontSize":8.3,"font":"Liberation Sans","color":"#e08a2c"},"encoding":{"x":{"field":"i","type":"quantitative","scale":{"domain":[-0.476,235.95],"nice":false,"zero":false},"axis":null},"y":{"field":"p","type":"quantitative","scale":{"domain":[4241.42,4686.6],"nice":false,"zero":false},"axis":null},"text":{"field":"t"}}},
{"data":{"name":"notes"},"transform":[{"filter":"datum.g == 'ng'"}],"mark":{"type":"text","align":"left","baseline":"middle","fontSize":8.3,"font":"Liberation Sans","color":"#2ed42e"},"encoding":{"x":{"field":"i","type":"quantitative","scale":{"domain":[-0.476,235.95],"nice":false,"zero":false},"axis":null},"y":{"field":"p","type":"quantitative","scale":{"domain":[4241.42,4686.6],"nice":false,"zero":false},"axis":null},"text":{"field":"t"}}},
{"data":{"name":"notes"},"transform":[{"filter":"datum.g == 'nr'"}],"mark":{"type":"text","align":"left","baseline":"middle","fontSize":8.3,"font":"Liberation Sans","color":"#e85a2a"},"encoding":{"x":{"field":"i","type":"quantitative","scale":{"domain":[-0.476,235.95],"nice":false,"zero":false},"axis":null},"y":{"field":"p","type":"quantitative","scale":{"domain":[4241.42,4686.6],"nice":false,"zero":false},"axis":null},"text":{"field":"t"}}},
{"data":{"name":"notes"},"transform":[{"filter":"datum.g == 'lab'"}],"mark":{"type":"text","align":"left","baseline":"middle","fontSize":8.3,"font":"Liberation Sans","color":"#3434d6"},"encoding":{"x":{"field":"i","type":"quantitative","scale":{"domain":[-0.476,235.95],"nice":false,"zero":false},"axis":null},"y":{"field":"p","type":"quantitative","scale":{"domain":[4241.42,4686.6],"nice":false,"zero":false},"axis":null},"text":{"field":"t"}}},
{"data":{"name":"notes"},"transform":[{"filter":"datum.g == 'tl'"}],"mark":{"type":"text","align":"left","baseline":"middle","fontSize":10.5,"font":"Liberation Sans","color":"#a86a3c"},"encoding":{"x":{"field":"i","type":"quantitative","scale":{"domain":[-0.476,235.95],"nice":false,"zero":false},"axis":null},"y":{"field":"p","type":"quantitative","scale":{"domain":[4241.42,4686.6],"nice":false,"zero":false},"axis":null},"text":{"field":"t"}}},
{"data":{"name":"notes"},"transform":[{"filter":"datum.g == 'cd'"}],"mark":{"type":"text","align":"left","baseline":"middle","fontSize":13,"font":"Liberation Sans","color":"#e23c3c"},"encoding":{"x":{"field":"i","type":"quantitative","scale":{"domain":[-0.476,235.95],"nice":false,"zero":false},"axis":null},"y":{"field":"p","type":"quantitative","scale":{"domain":[4241.42,4686.6],"nice":false,"zero":false},"axis":null},"text":{"field":"t"}}},
{"data":{"name":"cur"},"mark":{"type":"rule","color":"#000000","strokeWidth":1},"encoding":{"x":{"datum":235.95,"type":"quantitative","scale":{"domain":[-0.476,235.95],"nice":false,"zero":false},"axis":null}}},
{"data":{"name":"yt"},"mark":{"type":"text","align":"left","baseline":"middle","fontSize":6.5,"font":"Liberation Sans","color":"#000000"},"encoding":{"x":{"datum":236.9,"type":"quantitative","scale":{"domain":[-0.476,235.95],"nice":false,"zero":false},"axis":null},"y":{"field":"p","type":"quantitative","scale":{"domain":[4241.42,4686.6],"nice":false,"zero":false},"axis":null},"text":{"field":"p","format":".2f"}}},
{"data":{"name":"cur"},"mark":{"type":"point","shape":"M-1,-0.3H1V0.3H-1Z","size":784,"filled":true,"opacity":1,"color":"#000000","strokeWidth":0,"yOffset":-2.2},"encoding":{"x":{"datum":239.3,"type":"quantitative","scale":{"domain":[-0.476,235.95],"nice":false,"zero":false},"axis":null},"y":{"field":"p","type":"quantitative","scale":{"domain":[4241.42,4686.6],"nice":false,"zero":false},"axis":null}}},
{"data":{"name":"cur"},"mark":{"type":"text","align":"center","baseline":"middle","dy":-2.2,"fontSize":6.5,"font":"Liberation Sans","color":"#ffffff"},"encoding":{"x":{"datum":239.3,"type":"quantitative","scale":{"domain":[-0.476,235.95],"nice":false,"zero":false},"axis":null},"y":{"field":"p","type":"quantitative","scale":{"domain":[4241.42,4686.6],"nice":false,"zero":false},"axis":null},"text":{"field":"p","format":".2f"}}},
{"data":{"name":"sr"},"mark":{"type":"point","shape":"M-1,-0.3H1V0.3H-1Z","size":784,"filled":true,"opacity":1,"color":"#8c4e24","strokeWidth":0,"yOffset":1.8},"encoding":{"x":{"datum":239.3,"type":"quantitative","scale":{"domain":[-0.476,235.95],"nice":false,"zero":false},"axis":null},"y":{"field":"p","type":"quantitative","scale":{"domain":[4241.42,4686.6],"nice":false,"zero":false},"axis":null}}},
{"data":{"name":"sr"},"mark":{"type":"text","align":"center","baseline":"middle","dy":1.8,"fontSize":6.5,"font":"Liberation Sans","color":"#ffffff"},"encoding":{"x":{"datum":239.3,"type":"quantitative","scale":{"domain":[-0.476,235.95],"nice":false,"zero":false},"axis":null},"y":{"field":"p","type":"quantitative","scale":{"domain":[4241.42,4686.6],"nice":false,"zero":false},"axis":null},"text":{"field":"p","format":".2f"}}}
]},
{"width":993,"height":80,"layer":[
{"data":{"name":"grid"},"mark":{"type":"rule","color":"#c4c4c4","strokeDash":[1,2],"strokeWidth":1},"encoding":{"x":{"field":"i","type":"quantitative","scale":{"domain":[-0.476,235.95],"nice":false,"zero":false},"axis":null},"y":{"datum":0,"type":"quantitative","scale":{"domain":[-6.72,70],"nice":false,"zero":false},"axis":null},"y2":{"datum":70}}},
{"data":{"name":"lvl"},"mark":{"type":"rule","color":"#b07a4a","strokeWidth":1},"encoding":{"y":{"field":"v","type":"quantitative","scale":{"domain":[-6.72,70],"nice":false,"zero":false},"axis":null}}},
{"data":{"name":"atop"},"mark":{"type":"rule","color":"#555555","strokeWidth":1},"encoding":{"y":{"field":"v","type":"quantitative","scale":{"domain":[-6.72,70],"nice":false,"zero":false},"axis":null}}},
{"data":{"name":"abot"},"mark":{"type":"rule","color":"#333333","strokeWidth":1},"encoding":{"y":{"field":"v","type":"quantitative","scale":{"domain":[-6.72,70],"nice":false,"zero":false},"axis":null}}},
{"data":{"name":"abot"},"mark":{"type":"rule","color":"#000000","strokeWidth":1},"encoding":{"x":{"datum":235.95,"type":"quantitative","scale":{"domain":[-0.476,235.95],"nice":false,"zero":false},"axis":null},"y":{"datum":0,"type":"quantitative","scale":{"domain":[-6.72,70],"nice":false,"zero":false},"axis":null},"y2":{"datum":70}}},
{"data":{"name":"adx"},"transform":[{"filter":"datum.s == 'p'"}],"mark":{"type":"line","strokeWidth":1,"color":"#4cbf4c"},"encoding":{"x":{"field":"i","type":"quantitative","scale":{"domain":[-0.476,235.95],"nice":false,"zero":false},"axis":null},"y":{"field":"v","type":"quantitative","scale":{"domain":[-6.72,70],"nice":false,"zero":false},"axis":null}}},
{"data":{"name":"adx"},"transform":[{"filter":"datum.s == 'm'"}],"mark":{"type":"line","strokeWidth":1,"color":"#e23a3a"},"encoding":{"x":{"field":"i","type":"quantitative","scale":{"domain":[-0.476,235.95],"nice":false,"zero":false},"axis":null},"y":{"field":"v","type":"quantitative","scale":{"domain":[-6.72,70],"nice":false,"zero":false},"axis":null}}},
{"data":{"name":"adx"},"transform":[{"filter":"datum.s == 'a'"}],"mark":{"type":"line","strokeWidth":1,"color":"#262626"},"encoding":{"x":{"field":"i","type":"quantitative","scale":{"domain":[-0.476,235.95],"nice":false,"zero":false},"axis":null},"y":{"field":"v","type":"quantitative","scale":{"domain":[-6.72,70],"nice":false,"zero":false},"axis":null}}},
{"data":{"name":"anote"},"mark":{"type":"text","align":"left","baseline":"middle","fontSize":6.4,"font":"Liberation Sans","color":"#000000"},"encoding":{"x":{"field":"i","type":"quantitative","scale":{"domain":[-0.476,235.95],"nice":false,"zero":false},"axis":null},"y":{"field":"v","type":"quantitative","scale":{"domain":[-6.72,70],"nice":false,"zero":false},"axis":null},"text":{"field":"t"}}},
{"data":{"name":"ell"},"mark":{"type":"point","shape":"M-0.58,0A0.58,1 0 1,0 0.58,0A0.58,1 0 1,0 -0.58,0Z","size":2304,"filled":false,"opacity":1,"stroke":"#2a2ab8","strokeWidth":1.3},"encoding":{"x":{"field":"i","type":"quantitative","scale":{"domain":[-0.476,235.95],"nice":false,"zero":false},"axis":null},"y":{"field":"v","type":"quantitative","scale":{"domain":[-6.72,70],"nice":false,"zero":false},"axis":null}}},
{"data":{"name":"at"},"mark":{"type":"text","align":"left","baseline":"top","fontSize":6.5,"font":"Liberation Sans","color":"#000000"},"encoding":{"x":{"datum":236.9,"type":"quantitative","scale":{"domain":[-0.476,235.95],"nice":false,"zero":false},"axis":null},"y":{"field":"v","type":"quantitative","scale":{"domain":[-6.72,70],"nice":false,"zero":false},"axis":null},"text":{"field":"v"}}},
{"data":{"name":"abot"},"mark":{"type":"text","align":"left","baseline":"bottom","fontSize":6.5,"font":"Liberation Sans","color":"#000000"},"encoding":{"x":{"datum":236.9,"type":"quantitative","scale":{"domain":[-0.476,235.95],"nice":false,"zero":false},"axis":null},"y":{"field":"v","type":"quantitative","scale":{"domain":[-6.72,70],"nice":false,"zero":false},"axis":null},"text":{"field":"v"}}},
{"data":{"name":"dt"},"mark":{"type":"rule","color":"#000000","strokeWidth":1},"encoding":{"x":{"field":"i","type":"quantitative","scale":{"domain":[-0.476,235.95],"nice":false,"zero":false},"axis":null},"y":{"datum":0,"type":"quantitative","scale":{"domain":[-6.72,70],"nice":false,"zero":false},"axis":null},"y2":{"datum":-2}}},
{"data":{"name":"dt"},"mark":{"type":"text","align":"left","baseline":"top","dx":1,"dy":1,"fontSize":6,"font":"Liberation Sans","color":"#000000"},"encoding":{"x":{"field":"i","type":"quantitative","scale":{"domain":[-0.476,235.95],"nice":false,"zero":false},"axis":null},"y":{"datum":0,"type":"quantitative","scale":{"domain":[-6.72,70],"nice":false,"zero":false},"axis":null},"text":{"field":"t"}}},
{"data":{"name":"lvl"},"mark":{"type":"point","shape":"M-1,-0.3H1V0.3H-1Z","size":784,"filled":true,"opacity":1,"color":"#8c4e24","strokeWidth":0,"yOffset":1},"encoding":{"x":{"datum":239.3,"type":"quantitative","scale":{"domain":[-0.476,235.95],"nice":false,"zero":false},"axis":null},"y":{"field":"v","type":"quantitative","scale":{"domain":[-6.72,70],"nice":false,"zero":false},"axis":null}}},
{"data":{"name":"lvl"},"mark":{"type":"text","align":"center","baseline":"middle","dy":1,"fontSize":6.5,"font":"Liberation Sans","color":"#ffffff"},"encoding":{"x":{"datum":239.3,"type":"quantitative","scale":{"domain":[-0.476,235.95],"nice":false,"zero":false},"axis":null},"y":{"field":"v","type":"quantitative","scale":{"domain":[-6.72,70],"nice":false,"zero":false},"axis":null},"text":{"field":"v","format":".4f"}}}
]},
{"width":1024,"height":19,"data":{"name":"tabs"},"layer":[
{"mark":{"type":"rect","stroke":"#c9c9c9","strokeWidth":1},"encoding":{"x":{"field":"t","type":"nominal","sort":null,"scale":{"paddingInner":0,"paddingOuter":0},"axis":null},"color":{"condition":{"test":"datum.a == 1","value":"#ffffff"},"value":"#efefef"}}},
{"mark":{"type":"text","fontSize":7.6,"font":"Open Sans","baseline":"middle"},"encoding":{"x":{"field":"t","type":"nominal","sort":null,"scale":{"paddingInner":0,"paddingOuter":0},"axis":null},"text":{"field":"t"},"color":{"condition":{"test":"datum.a == 1","value":"#111111"},"value":"#707070"}}}
]}
]
}
